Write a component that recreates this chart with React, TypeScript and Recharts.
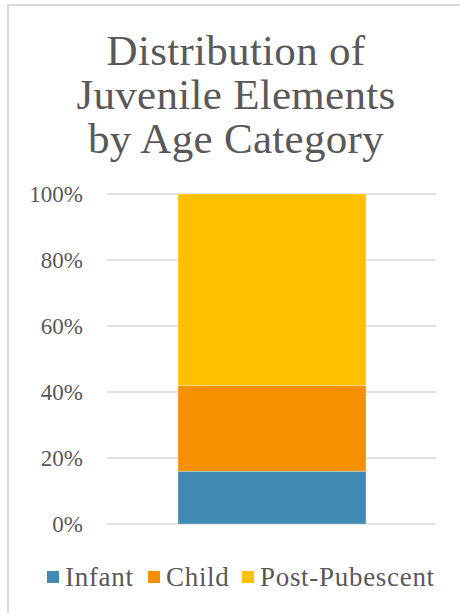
import { BarChart, Bar, XAxis, YAxis, CartesianGrid } from 'recharts'

const categories = ['Juvenile Elements']
const seriesNames = ['Infant', 'Child', 'Post-Pubescent']
const infant = [16]
const child = [26]
const postPubescent = [58]
const yTicks = [0, 20, 40, 60, 80, 100]

const colors = ['#418AB3', '#F59100', '#FFC000']
const textColor = '#595959'
const font = '"Liberation Serif", "Times New Roman", serif'

const data = categories.map((name, i) => ({
  name,
  infant: infant[i],
  child: child[i],
  post: postPubescent[i],
}))

// legend item left offsets (px) inside the chart box
const legendX = [47, 148, 242]

export default function App() {
  return (
    <div style={{ position: 'fixed', left: 0, top: 0, width: 460, height: 613, overflow: 'hidden', background: '#fff' }}>
      {/* chart frame, only left & top edges visible */}
      <div
        style={{
          position: 'absolute',
          left: 7,
          top: 4,
          width: 480,
          height: 640,
          border: '2px solid #d9d9d9',
          boxSizing: 'border-box',
        }}
      />
      <div
        style={{
          position: 'absolute',
          left: 8,
          top: 29,
          width: 456,
          textAlign: 'center',
          fontFamily: font,
          fontSize: 43,
          lineHeight: '44px',
          letterSpacing: 0.3,
          color: textColor,
        }}
      >
        Distribution of
        <br />
        Juvenile Elements
        <br />
        by Age Category
      </div>
      <div style={{ position: 'absolute', left: 0, top: 0 }}>
        <BarChart width={460} height={613} data={data} margin={{ top: 194, right: 24, bottom: 89, left: 0 }}>
          <CartesianGrid vertical={false} stroke="#d9d9d9" strokeWidth={1.5} />
          <XAxis dataKey="name" hide />
          <YAxis
            width={107}
            domain={[0, 100]}
            ticks={yTicks}
            tickFormatter={(v: number) => `${v}%`}
            axisLine={false}
            tickLine={false}
            tickSize={0}
            tickMargin={24}
            tick={{ fill: textColor, fontSize: 23, fontFamily: font }}
          />
          <Bar dataKey="infant" stackId="a" fill={colors[0]} barSize={188} stroke="rgba(255,255,255,0.3)" isAnimationActive={false} />
          <Bar dataKey="child" stackId="a" fill={colors[1]} barSize={188} stroke="rgba(255,255,255,0.3)" isAnimationActive={false} />
          <Bar dataKey="post" stackId="a" fill={colors[2]} barSize={188} stroke="rgba(255,255,255,0.3)" isAnimationActive={false} />
        </BarChart>
      </div>
      {seriesNames.map((n, i) => (
        <div
          key={n}
          style={{
            position: 'absolute',
            left: legendX[i],
            top: 563,
            display: 'flex',
            alignItems: 'center',
            fontFamily: font,
            fontSize: 27,
            lineHeight: '28px',
            letterSpacing: 0.7,
            color: textColor,
            whiteSpace: 'nowrap',
          }}
        >
          <span style={{ display: 'inline-block', width: 12, height: 12, background: colors[i], marginRight: 6 }} />
          {n}
        </div>
      ))}
    </div>
  )
}
